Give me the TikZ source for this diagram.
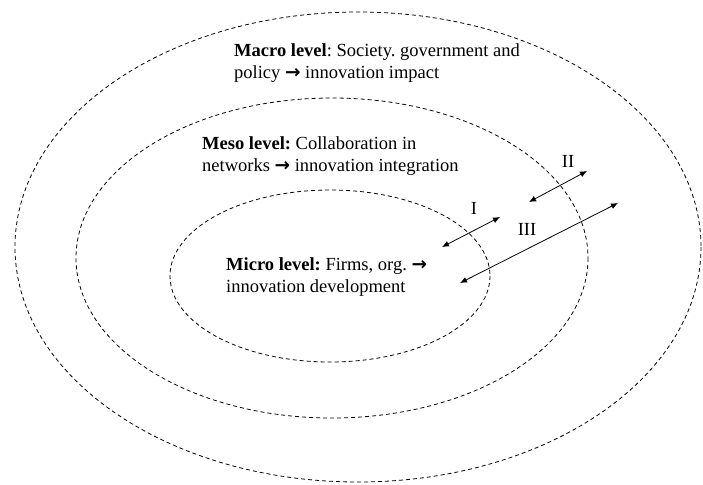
\documentclass[tikz,border=0pt]{standalone}
\usepackage{fontspec}
\setmainfont{Liberation Serif}
\newfontfamily\arrowfont{DejaVu Sans}
\usetikzlibrary{arrows.meta}
\newcommand{\goesto}{{\arrowfont\bfseries →}}
\frenchspacing
\begin{document}
\begin{tikzpicture}[x=1pt, y=-1pt,
    level/.style={dashed, dash pattern=on 4pt off 3pt, line width=0.8pt},
    leveltext/.style={anchor=west, inner sep=0pt, align=left, font=\fontsize{18.5}{22}\selectfont},
    numeral/.style={inner sep=0pt, font=\fontsize{18.5}{22}\selectfont},
    link/.style={{Latex[length=7pt,width=6pt]}-{Latex[length=7pt,width=6pt]}, line width=0.8pt}]
    \useasboundingbox (0,0) rectangle (703,484);
    % the three levels
    \draw[level] (358,247) ellipse [x radius=343, y radius=235];
    \draw[level] (332,258) ellipse [x radius=256, y radius=160];
    \draw[level] (330,276) ellipse [x radius=160, y radius=86];
    \node [leveltext] (macro) at (234,63) {\textbf{Macro level}: Society. government and\\policy \goesto{} innovation impact};
    \node [leveltext] (meso) at (202,156) {\textbf{Meso level:} Collaboration in\\networks \goesto{} innovation integration};
    \node [leveltext] (micro) at (226,277) {\textbf{Micro level:} Firms, org. \goesto{}\\innovation development};
    % links between levels
    \coordinate (i1) at (442,247);
    \coordinate (i2) at (500,217);
    \coordinate (ii1) at (529,202);
    \coordinate (ii2) at (587,171);
    \coordinate (iii1) at (460,283);
    \coordinate (iii2) at (618,203);
    \draw[link] (i1) -- (i2);
    \draw[link] (ii1) -- (ii2);
    \draw[link] (iii1) -- (iii2);
    \node [numeral] (one) at (474,208) {I};
    \node [numeral] (two) at (568,161) {II};
    \node [numeral] (three) at (527,229) {III};
\end{tikzpicture}
\end{document}
